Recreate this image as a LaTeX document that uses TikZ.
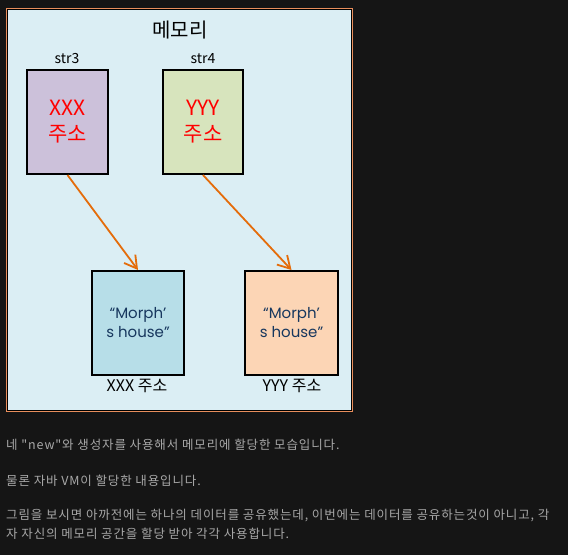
\documentclass[tikz,border=0pt]{standalone}
\usepackage{fontspec}
\setmainfont{Noto Sans CJK KR}
\newfontfamily\geofont{Poppins}
\newfontfamily\bodyfont[LetterSpace=7]{Noto Sans CJK KR}
\usetikzlibrary{arrows.meta}
\definecolor{pagebg}{RGB}{21,21,21}
\definecolor{panelfill}{RGB}{219,238,244}
\definecolor{panelorange}{RGB}{232,142,92}
\definecolor{arroworange}{RGB}{228,108,10}
\definecolor{purplefill}{RGB}{204,193,218}
\definecolor{greenfill}{RGB}{215,228,189}
\definecolor{bluefill}{RGB}{183,222,232}
\definecolor{peachfill}{RGB}{252,213,181}
\definecolor{navytext}{RGB}{23,55,94}
\definecolor{bodygray}{RGB}{168,168,168}
\tikzset{
  refbox/.style={draw=black, line width=2pt, inner sep=0pt, minimum width=81pt, minimum height=104pt, align=center, text=red, font=\fontsize{21}{26}\selectfont},
  valbox/.style={draw=black, line width=2pt, inner sep=0pt, minimum height=104pt, align=center, text=navytext, font=\geofont\fontsize{15}{19}\selectfont},
  varlabel/.style={inner sep=0pt, font=\fontsize{14}{16}\selectfont},
  addrlabel/.style={inner sep=0pt, font=\fontsize{16}{18}\selectfont},
  bodytext/.style={anchor=west, inner sep=0pt, text=bodygray, font=\bodyfont\fontsize{12.5}{14}\selectfont},
  ptr/.style={draw=arroworange, line width=1.8pt, -{Straight Barb[angle=60:14pt]}}
}
\begin{document}
\begin{tikzpicture}[x=1pt,y=-1pt]
\useasboundingbox (0,0) rectangle (568,555);
\fill[pagebg] (0,0) rectangle (568,555);
% panel
\draw[panelorange, line width=1pt] (6.5,8.5) rectangle (352.5,411.5);
\draw[black, fill=panelfill, line width=1pt] (7.5,9.5) rectangle (351.5,410.5);
\node[inner sep=0pt, font=\fontsize{20}{22}\selectfont] (title) at (180,30) {메모리};
% reference boxes
\node[varlabel] (l3) at (67,59) {str3};
\node[varlabel] (l4) at (203,59) {str4};
\node[refbox, fill=purplefill] (s3) at (67.5,122) {XXX\\주소};
\node[refbox, fill=greenfill, minimum width=80pt] (s4) at (203,122) {YYY\\주소};
% value boxes
\node[valbox, fill=bluefill, minimum width=92pt] (a) at (138,323) {“Morph’\\s house”};
\node[valbox, fill=peachfill, minimum width=93pt] (b) at (291.5,323) {“Morph’\\s house”};
\node[addrlabel] (la) at (137,386) {XXX 주소};
\node[addrlabel] (lb) at (292,386) {YYY 주소};
% pointers
\draw[ptr] (s3.south) -- (a.north);
\draw[ptr] (s4.south) -- (b.north);
% body text
\node[bodytext] (t1) at (6,445) {네 "new"와 생성자를 사용해서 메모리에 할당한 모습입니다.};
\node[bodytext] (t2) at (6,481) {물론 자바 VM이 할당한 내용입니다.};
\node[bodytext] (t3) at (6,516) {그림을 보시면 아까전에는 하나의 데이터를 공유했는데, 이번에는 데이터를 공유하는것이 아니고, 각};
\node[bodytext] (t4) at (6,534) {자 자신의 메모리 공간을 할당 받아 각각 사용합니다.};
\end{tikzpicture}
\end{document}
